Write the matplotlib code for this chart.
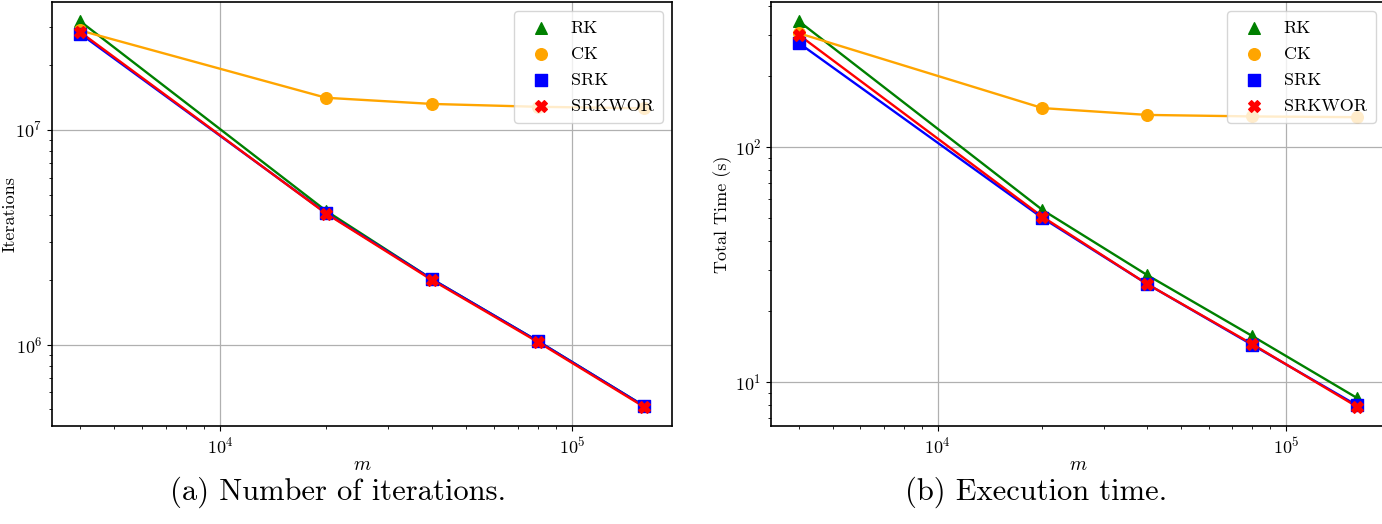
import matplotlib
matplotlib.use('Agg')
import matplotlib.pyplot as plt

plt.rcParams['font.family'] = 'serif'
plt.rcParams['font.serif'] = ['cmr10', 'DejaVu Serif']
plt.rcParams['mathtext.fontset'] = 'cm'
plt.rcParams['axes.formatter.use_mathtext'] = True
plt.rcParams['axes.unicode_minus'] = False

m = [4000, 20000, 40000, 80000, 160000]
methods = ['RK', 'CK', 'SRK', 'SRKWOR']
colors = ['green', 'orange', 'blue', 'red']
markers = ['^', 'o', 's', 'X']

# iterations
iters_rk = [3.2e7, 4.2e6, 2.02e6, 1.04e6, 5.2e5]
iters_ck = [2.9e7, 1.41e7, 1.32e7, 1.28e7, 1.26e7]
iters_srk = [2.8e7, 4.1e6, 2.02e6, 1.04e6, 5.2e5]
iters_srkwor = [2.85e7, 4.08e6, 2.0e6, 1.03e6, 5.15e5]

# total time (s)
time_rk = [343, 54, 28.5, 15.7, 8.55]
time_ck = [305, 146.5, 137, 135, 134]
time_srk = [277, 49.9, 26.1, 14.4, 7.95]
time_srkwor = [300, 50.5, 26.1, 14.5, 7.85]

fig = plt.figure(figsize=(13.82, 5.24), dpi=100)
W, H = 1382, 524
ax1 = fig.add_axes([52 / W, (H - 426) / H, 620 / W, 424 / H])
ax2 = fig.add_axes([771 / W, (H - 426) / H, 614 / W, 424 / H])


def draw(ax, series, ylabel, ylab_x):
    for name, ys, c, mk in zip(methods, series, colors, markers):
        ax.plot(m, ys, color=c, lw=1.7)
        ax.scatter(m, ys, color=c, marker=mk, s=70, label=name, zorder=3)
    ax.set_xscale('log')
    ax.set_yscale('log')
    ax.grid(True, which='major', color='#b0b0b0', lw=0.9)
    ax.set_xlabel('$m$', fontsize=14)
    ax.xaxis.set_label_coords(0.5, -0.07)
    ax.set_ylabel(ylabel, fontsize=13)
    ax.yaxis.set_label_coords(ylab_x, 0.5)
    ax.tick_params(labelsize=13)
    for s in ax.spines.values():
        s.set_linewidth(1.2)
    ax.legend(loc='upper right', fontsize=13, borderpad=0.5, labelspacing=0.58,
              handletextpad=0.65)


draw(ax1, [iters_rk, iters_ck, iters_srk, iters_srkwor], 'Iterations', -0.055)
draw(ax2, [time_rk, time_ck, time_srk, time_srkwor], 'Total Time (s)', -0.064)

fig.text(338 / W, 1 - 492 / H, '(a) Number of iterations.', ha='center', va='center', fontsize=22)
fig.text(1036 / W, 1 - 492 / H, '(b) Execution time.', ha='center', va='center', fontsize=22)

fig.savefig('out.png', dpi=100)
